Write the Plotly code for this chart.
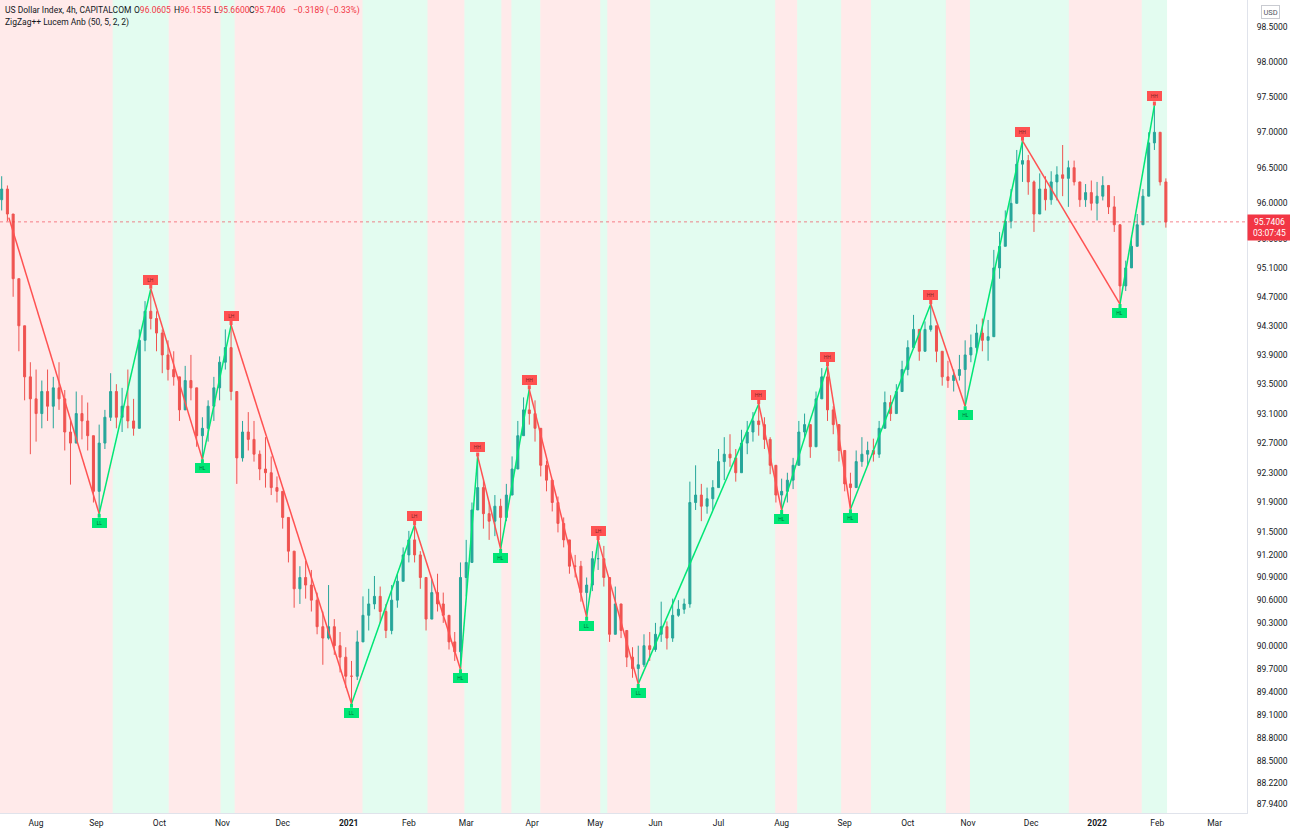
import numpy as np
import pandas as pd
import plotly.graph_objects as go

# ---------------- data ----------------
first_bar_date = "2020-07-16"
bar_count = 204
first_open = 96.05

closes = [96.20, 95.85, 94.95, 94.30, 93.60, 93.30, 93.10, 93.40, 93.20, 93.45,
          93.30, 92.85, 92.70, 93.10, 93.00, 92.80, 92.05, 92.70, 93.05, 93.40,
          93.05, 93.20, 93.00, 92.90, 94.10, 94.50, 94.40, 94.20, 93.90, 93.70,
          93.60, 93.15, 93.55, 93.45, 92.80, 92.90, 93.20, 93.45, 93.80, 94.00,
          93.40, 92.50, 92.85, 92.75, 92.55, 92.35, 92.30, 92.10, 92.05, 91.70,
          91.25, 90.75, 90.90, 90.80, 90.60, 90.25, 90.10, 90.25, 90.00, 89.85,
          89.60, 89.60, 90.05, 90.40, 90.55, 90.65, 90.45, 90.20, 90.60, 90.85,
          91.20, 91.40, 91.20, 90.90, 90.35, 90.70, 90.55, 90.40, 90.05, 89.92,
          90.90, 91.10, 91.80, 92.10, 91.75, 91.65, 91.85, 91.70, 92.00, 92.35,
          92.80, 93.15, 93.10, 92.90, 92.40, 92.20, 91.90, 91.62, 91.40, 91.05,
          91.05, 90.70, 90.80, 91.15, 91.15, 90.90, 90.15, 90.55, 90.20, 89.85,
          89.70, 89.75, 90.00, 89.95, 90.15, 90.25, 90.10, 90.40, 90.48, 90.55,
          91.90, 92.00, 91.85, 91.95, 92.10, 92.45, 92.55, 92.50, 92.30, 92.70,
          92.85, 93.00, 92.95, 92.75, 92.40, 92.00, 92.05, 92.20, 92.40, 92.85,
          92.95, 92.65, 93.30, 93.60, 93.15, 92.95, 92.60, 92.15, 92.10, 92.45,
          92.55, 92.60, 92.55, 92.90, 93.25, 93.10, 93.40, 93.70, 94.00, 94.25,
          93.95, 94.25, 94.30, 93.95, 93.60, 93.55, 93.62, 93.70, 93.90, 94.00,
          94.20, 94.10, 94.15, 95.10, 95.40, 95.75, 96.00, 96.55, 96.60, 96.30,
          95.85, 96.20, 96.05, 96.30, 96.40, 96.35, 96.50, 96.30, 96.05, 96.15,
          96.00, 96.10, 96.25, 95.95, 95.70, 94.85, 95.10, 95.40, 95.70, 96.10,
          96.85, 97.00, 96.30, 95.7406]

highs = [96.38, 96.25, 95.45, 94.80, 94.10, 93.80, 93.70, 93.55, 93.70, 93.60,
         93.80, 93.42, 93.00, 93.40, 93.35, 93.25, 92.75, 92.95, 93.15, 93.65,
         93.50, 93.45, 93.70, 93.30, 94.25, 94.64, 94.81, 94.50, 94.25, 94.10,
         93.95, 93.60, 93.75, 93.90, 93.35, 93.05, 93.28, 93.60, 93.88, 94.25,
         94.31, 92.90, 93.00, 93.12, 93.00, 92.60, 92.78, 92.52, 92.25, 92.05,
         91.58, 91.10, 91.05, 91.12, 91.00, 90.70, 90.45, 90.80, 90.35, 90.18,
         89.98, 89.80, 90.20, 90.65, 90.75, 90.92, 90.78, 90.55, 90.80, 90.95,
         91.30, 91.52, 91.60, 91.25, 90.62, 90.88, 90.95, 90.70, 90.35, 90.18,
         91.10, 91.40, 91.90, 92.52, 92.20, 91.90, 92.00, 91.95, 92.15, 92.52,
         93.00, 93.32, 93.43, 93.28, 92.78, 92.46, 92.18, 91.98, 91.70, 91.32,
         91.20, 91.12, 90.90, 91.25, 91.40, 91.32, 90.55, 90.78, 90.50, 90.18,
         89.98, 90.00, 90.15, 90.18, 90.30, 90.58, 90.32, 90.62, 90.60, 90.62,
         92.18, 92.40, 92.15, 92.10, 92.20, 92.62, 92.78, 92.82, 92.62, 92.88,
         93.00, 93.12, 93.23, 93.05, 92.78, 92.30, 92.22, 92.30, 92.50, 93.00,
         93.10, 92.95, 93.40, 93.72, 93.75, 93.20, 92.90, 92.52, 92.30, 92.60,
         92.78, 92.72, 92.76, 93.00, 93.40, 93.35, 93.50, 93.82, 94.10, 94.45,
         94.22, 94.36, 94.60, 94.30, 93.95, 93.82, 93.70, 93.90, 94.10, 94.18,
         94.32, 94.40, 94.38, 95.35, 95.60, 95.90, 96.20, 96.75, 96.88, 96.68,
         96.32, 96.42, 96.38, 96.45, 96.52, 96.82, 96.60, 96.60, 96.25, 96.27,
         96.32, 96.30, 96.38, 96.25, 96.10, 95.60, 95.20, 95.55, 95.85, 96.20,
         97.00, 97.38, 96.80, 96.35]

lows = [95.90, 95.75, 94.70, 93.95, 93.28, 92.55, 92.72, 92.90, 93.00, 92.90,
        93.15, 92.60, 92.14, 92.85, 92.75, 92.60, 91.90, 91.75, 92.62, 93.00,
        92.90, 92.85, 92.90, 92.80, 93.50, 93.95, 94.25, 93.95, 93.65, 93.55,
        93.48, 93.00, 93.22, 93.28, 92.65, 92.48, 92.72, 93.00, 93.28, 93.70,
        93.28, 92.15, 92.45, 92.60, 92.45, 92.20, 92.10, 92.00, 91.90, 91.55,
        91.10, 90.50, 90.55, 90.62, 90.45, 90.15, 89.75, 90.08, 89.88, 89.65,
        89.45, 89.24, 89.55, 90.20, 90.20, 90.48, 90.30, 90.10, 90.15, 90.50,
        90.85, 91.10, 91.10, 90.75, 90.20, 90.38, 90.45, 90.30, 89.95, 89.80,
        89.69, 90.65, 91.10, 91.90, 91.55, 91.40, 91.45, 91.28, 91.65, 92.00,
        92.58, 92.88, 92.95, 92.72, 92.25, 92.05, 91.78, 91.50, 91.30, 90.95,
        90.90, 90.58, 90.38, 90.72, 91.00, 90.78, 90.05, 90.25, 90.10, 89.72,
        89.58, 89.50, 89.72, 89.80, 89.92, 90.05, 89.95, 90.05, 90.38, 90.42,
        90.50, 91.80, 91.65, 91.75, 91.80, 92.20, 92.20, 92.38, 92.18, 92.35,
        92.55, 92.72, 92.80, 92.62, 92.28, 91.90, 91.80, 91.90, 92.08, 92.65,
        92.78, 92.50, 92.95, 93.35, 93.00, 92.82, 92.45, 92.05, 91.81, 92.18,
        92.38, 92.40, 92.45, 92.50, 93.00, 93.00, 93.10, 93.40, 93.62, 94.00,
        93.82, 94.05, 94.22, 93.80, 93.48, 93.45, 93.40, 93.55, 93.20, 93.80,
        93.92, 93.95, 93.82, 94.20, 94.95, 95.48, 95.65, 96.20, 96.30, 96.12,
        95.60, 95.85, 95.90, 95.98, 96.04, 96.10, 95.95, 96.25, 95.95, 95.95,
        95.90, 95.76, 96.04, 95.85, 95.60, 94.60, 94.78, 95.12, 95.42, 95.70,
        96.10, 96.75, 96.25, 95.66]

# ZigZag pivots (first entry = line entering from the left edge)
pivot_dates = ["2020-07-20 12:00", "2020-09-02", "2020-09-28", "2020-10-22", "2020-11-05",
               "2021-01-04", "2021-02-03", "2021-02-25", "2021-03-05", "2021-03-17",
               "2021-03-31", "2021-04-28", "2021-05-04", "2021-05-24", "2021-07-21",
               "2021-08-02", "2021-08-24", "2021-09-03", "2021-10-13", "2021-10-29",
               "2021-11-26", "2022-01-13", "2022-01-31"]
pivot_prices = [95.80, 91.75, 94.81, 92.48, 94.31,
                89.24, 91.60, 89.69, 92.52, 91.28,
                93.43, 90.38, 91.40, 89.50, 93.23,
                91.80, 93.75, 91.81, 94.60, 93.20,
                96.88, 94.60, 97.38]
pivot_labels = ["", "LL", "LH", "HL", "LH",
                "LL", "LH", "HL", "HH", "HL",
                "HH", "LL", "LH", "LL", "HH",
                "HL", "HH", "HL", "HH", "HL",
                "HH", "HL", "HH"]

# background regime (trend) bands
regime_edges = ["2020-07-10", "2020-09-08 17:00", "2020-10-06 06:00", "2020-10-30 08:00",
                "2020-11-06 06:00", "2021-01-07 20:00", "2021-02-09 12:00", "2021-02-26 09:00",
                "2021-03-17 06:00", "2021-03-22 18:00", "2021-04-05 20:00", "2021-05-04 18:00",
                "2021-05-07 05:00", "2021-05-28 04:00", "2021-07-28 18:00", "2021-08-09 10:00",
                "2021-08-30 18:00", "2021-09-14 04:00", "2021-10-20 07:00", "2021-11-01 16:00",
                "2021-12-20 04:00", "2022-01-24 14:00", "2022-02-04 10:00"]
regime_kinds = ["down", "up", "down", "up", "down", "up", "down", "up", "down", "up", "down",
                "up", "down", "up", "down", "up", "down", "up", "down", "up", "down", "up"]

month_ticks = ["2020-08-03", "2020-09-01", "2020-10-01", "2020-11-02", "2020-12-01",
               "2021-01-01", "2021-02-01", "2021-03-01", "2021-04-01", "2021-05-03",
               "2021-06-01", "2021-07-01", "2021-08-02", "2021-09-01", "2021-10-01",
               "2021-11-01", "2021-12-01", "2022-01-03", "2022-02-01", "2022-03-01"]
month_labels = ["Aug", "Sep", "Oct", "Nov", "Dec", "<b>2021</b>", "Feb", "Mar", "Apr", "May",
                "Jun", "Jul", "Aug", "Sep", "Oct", "Nov", "Dec", "<b>2022</b>", "Feb", "Mar"]

price_ticks = [98.5, 98.0, 97.5, 97.0, 96.5, 96.0, 95.5, 95.1, 94.7, 94.3, 93.9, 93.5, 93.1,
               92.7, 92.3, 91.9, 91.5, 91.2, 90.9, 90.6, 90.3, 90.0, 89.7, 89.4, 89.1, 88.8,
               88.5, 88.22, 87.94]

last_ohlc = [96.0605, 96.1555, 95.6600, 95.7406]
last_change = -0.3189
last_change_pct = -0.33
countdown = "03:07:45"

x_view = ["2020-07-15 10:00", "2022-03-16 07:00"]
y_view = [87.83, 98.89]

# ---------------- styles ----------------
UP = "#26a69a"
DOWN = "#ef5350"
ZZ_UP = "#00e676"
ZZ_DOWN = "#ff5252"
BAND = {"down": "rgba(255,82,82,0.12)", "up": "rgba(0,230,118,0.11)"}
FONT = "Roboto"
TXT = "#131722"
RED = "#f23645"

dates = pd.bdate_range(first_bar_date, periods=bar_count, freq="2B")
c = np.array(closes)
o = np.concatenate([[first_open], c[:-1]])
h = np.maximum(np.array(highs), np.maximum(o, c))
l = np.minimum(np.array(lows), np.minimum(o, c))

fig = go.Figure()

fig.add_trace(go.Candlestick(
    x=dates, open=o, high=h, low=l, close=c,
    increasing=dict(line=dict(color=UP, width=1), fillcolor=UP),
    decreasing=dict(line=dict(color=DOWN, width=1), fillcolor=DOWN),
    whiskerwidth=0, hoverinfo="skip", showlegend=False))

# zigzag segments
up_x, up_y, dn_x, dn_y = [], [], [], []
for i in range(1, len(pivot_dates)):
    seg_x = [pivot_dates[i - 1], pivot_dates[i], None]
    seg_y = [pivot_prices[i - 1], pivot_prices[i], None]
    if pivot_prices[i] > pivot_prices[i - 1]:
        up_x += seg_x; up_y += seg_y
    else:
        dn_x += seg_x; dn_y += seg_y
fig.add_trace(go.Scatter(x=up_x, y=up_y, mode="lines", line=dict(color=ZZ_UP, width=1.5),
                         hoverinfo="skip", showlegend=False))
fig.add_trace(go.Scatter(x=dn_x, y=dn_y, mode="lines", line=dict(color=ZZ_DOWN, width=1.5),
                         hoverinfo="skip", showlegend=False))

# last price dotted line
fig.add_trace(go.Scatter(x=x_view, y=[last_ohlc[3], last_ohlc[3]], mode="lines",
                         line=dict(color="rgba(242,54,69,0.6)", width=1, dash="dot"),
                         hoverinfo="skip", showlegend=False))

# background bands
shapes = []
for i, kind in enumerate(regime_kinds):
    shapes.append(dict(type="rect", xref="x", yref="paper", x0=regime_edges[i],
                       x1=regime_edges[i + 1], y0=0, y1=1, fillcolor=BAND[kind],
                       line=dict(width=0), layer="below"))

annotations = []
# pivot labels
for d, p, lab in zip(pivot_dates, pivot_prices, pivot_labels):
    if not lab:
        continue
    is_high = lab.endswith("H")
    col = ZZ_DOWN if is_high else ZZ_UP
    annotations.append(dict(
        x=d, y=np.log10(p), xref="x", yref="y", text=lab, showarrow=True,
        ax=0, ay=-9 if is_high else 9, arrowhead=0, arrowwidth=3, arrowcolor=col,
        standoff=0, bgcolor=col, bordercolor=col, borderwidth=0, borderpad=1,
        width=13, height=8, font=dict(family=FONT, size=5, color="rgba(0,0,0,0.55)")))

# header legend
def head(text, px, row, color=TXT):
    annotations.append(dict(xref="paper", yref="paper", x=0, y=1, xanchor="left",
                            yanchor="middle", xshift=px, yshift=-10 - 12 * row,
                            text=text, showarrow=False,
                            font=dict(family=FONT, size=8.5, color=color)))

head("US Dollar Index, 4h, CAPITALCOM", 3, 0)
for lbl, val, px in zip(["O", "H", "L", "C"], last_ohlc, [132, 172, 212, 247]):
    head(f"{lbl}<span style='color:{RED}'>{val:.4f}</span>", px, 0)
head(f"−{abs(last_change):.4f} (−{abs(last_change_pct):.2f}%)", 291, 0, RED)
head("ZigZag++ Lucem Anb (50, 5, 2, 2)", 3, 1)

# USD box
annotations.append(dict(xref="paper", yref="paper", x=1, y=1, xanchor="center", yanchor="middle",
                        xshift=23, yshift=-12, text="USD", showarrow=False,
                        bordercolor="#c9cbd1", borderwidth=1, borderpad=1.5, bgcolor="white",
                        font=dict(family=FONT, size=7.5, color="#50535e")))
# last price label
annotations.append(dict(xref="paper", yref="y", x=1, y=np.log10(last_ohlc[3]), xanchor="left",
                        yanchor="top", yshift=8, text=f"{last_ohlc[3]:.4f}<br>{countdown}",
                        showarrow=False, bgcolor=RED, borderpad=2, width=39, align="center",
                        font=dict(family=FONT, size=8.5, color="white")))

fig.update_layout(
    width=1290, height=831, margin=dict(l=0, r=43, t=0, b=18),
    paper_bgcolor="white", plot_bgcolor="white", showlegend=False,
    font=dict(family=FONT, size=8.5, color=TXT), boxgap=0.5,
    shapes=shapes, annotations=annotations, hovermode=False,
    xaxis=dict(type="date", range=x_view, rangebreaks=[dict(bounds=["sat", "mon"])],
               rangeslider=dict(visible=False), tickmode="array", tickvals=month_ticks,
               ticktext=month_labels, showgrid=False, zeroline=False, showline=True,
               linecolor="#e0e3eb", ticks="outside", ticklen=2, tickcolor="rgba(0,0,0,0)",
               tickfont=dict(family=FONT, size=8.5, color=TXT)),
    yaxis=dict(type="log", side="right", range=[np.log10(y_view[0]), np.log10(y_view[1])],
               tickmode="array", tickvals=price_ticks,
               ticktext=[f"{v:.4f}" for v in price_ticks], showgrid=False, zeroline=False,
               showline=True, linecolor="#e0e3eb", ticks="outside", ticklen=7,
               tickcolor="rgba(0,0,0,0)", tickfont=dict(family=FONT, size=8.5, color=TXT)),
)

fig.write_html("out.html", config={"displayModeBar": False})
